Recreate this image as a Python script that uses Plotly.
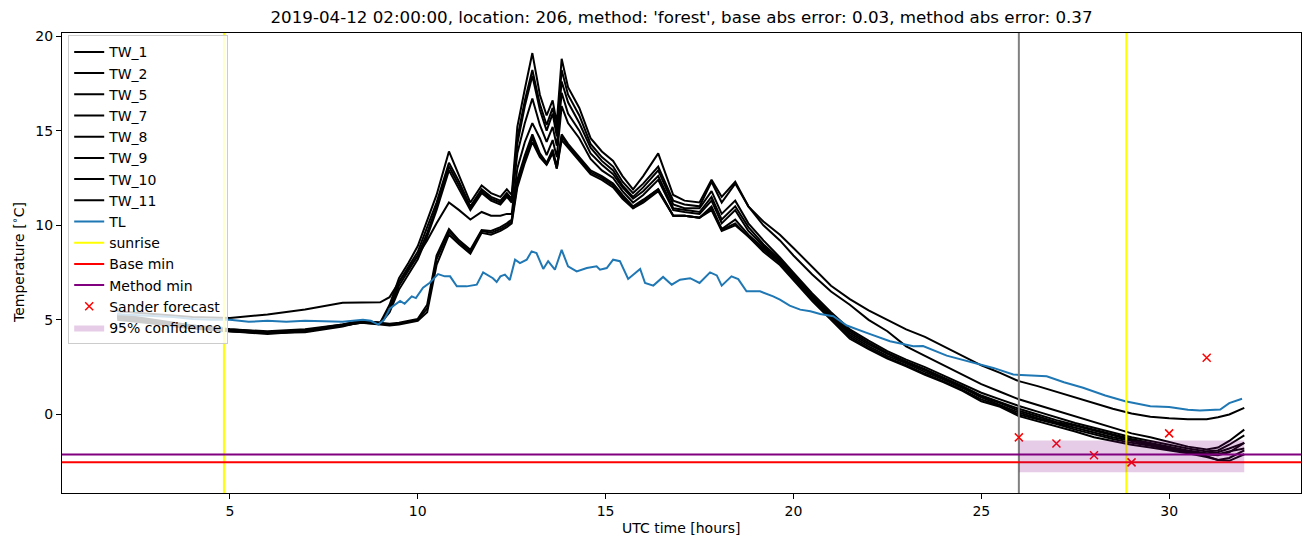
import plotly.graph_objects as go

# ---------------- data ----------------
T = [2.0, 3.0, 4.0, 5.0, 6.0, 7.0, 8.0, 8.5, 9.0, 9.25, 9.5, 9.75, 10.0, 10.25, 10.5,
     10.83, 11.1, 11.4, 11.7, 11.95, 12.2, 12.37, 12.5, 12.65, 12.85, 13.05, 13.25,
     13.43, 13.59, 13.7, 13.83, 14.0, 14.3, 14.6, 14.9, 15.2, 15.45, 15.73, 16.0, 16.4,
     16.8, 17.1, 17.5, 17.82, 18.09, 18.45, 18.8, 19.2, 19.64, 20.0, 20.5, 21.0, 21.5,
     22.0, 22.5, 23.0, 23.5, 24.0, 24.5, 25.0, 25.5, 26.0, 26.5, 27.0, 27.5, 28.0, 28.5,
     29.0, 29.5, 30.0, 30.5, 31.0, 31.3, 31.6, 32.0]

TW_1 = [5.2, 4.9, 4.7, 4.5, 4.35, 4.45, 4.75, 4.95, 4.85, 5.8, 7.2, 8.0, 8.9, 10.2, 11.6,
        13.9, 12.6, 11.2, 12.1, 11.7, 11.5, 11.9, 11.6, 15.2, 17.2, 19.1, 16.9,
        15.8, 16.6, 15.4, 18.8, 17.3, 16.2, 14.6, 13.9, 13.4, 12.6, 11.9, 12.6, 13.8,
        11.6, 11.3, 11.2, 12.4, 11.5, 12.3, 11.0, 10.0, 9.2, 8.4, 7.4, 6.5, 5.8,
        5.0, 4.4, 3.6, 3.1, 2.6, 2.1, 1.6, 1.2, 0.8, 0.5, 0.2, -0.1, -0.4, -0.7,
        -1.0, -1.2, -1.45, -1.7, -1.85, -1.75, -1.4, -0.8]
TW_2 = [5.1, 4.85, 4.6, 4.45, 4.3, 4.4, 4.7, 4.9, 4.85, 5.6, 7.0, 7.8, 8.6, 9.9, 11.2,
        13.3, 12.3, 11.0, 11.9, 11.5, 11.3, 11.7, 11.4, 14.6, 16.6, 18.2, 16.4,
        15.3, 16.2, 15.0, 18.2, 16.9, 15.8, 14.3, 13.6, 13.1, 12.3, 11.7, 12.2, 13.1,
        11.3, 11.1, 11.0, 12.3, 11.2, 12.2, 11.0, 10.2, 9.5, 8.8, 7.8, 6.8, 6.1,
        5.5, 5.0, 4.5, 4.1, 3.6, 3.1, 2.6, 2.2, 1.76, 1.5, 1.2, 0.9, 0.6, 0.3,
        0.05, -0.12, -0.2, -0.25, -0.25, -0.15, 0.0, 0.35]
TW_5 = [5.0, 4.8, 4.55, 4.4, 4.3, 4.35, 4.65, 4.9, 4.8, 5.5, 6.8, 7.6, 8.4, 9.6, 11.0,
        13.1, 12.1, 10.9, 11.8, 11.4, 11.2, 11.6, 11.3, 14.3, 16.3, 17.9, 16.1,
        15.0, 15.9, 14.7, 17.6, 16.5, 15.4, 14.1, 13.4, 12.9, 12.1, 11.5, 12.0, 12.9,
        11.1, 10.9, 10.9, 11.8, 10.6, 11.3, 10.1, 9.2, 8.3, 7.5, 6.4, 5.4, 4.5,
        3.9, 3.35, 2.9, 2.5, 2.05, 1.6, 1.15, 0.8, 0.45, 0.15, -0.15, -0.45, -0.7, -0.95,
        -1.2, -1.4, -1.6, -1.8, -1.95, -1.9, -1.6, -1.1]
TW_7 = [5.15, 4.9, 4.6, 4.4, 4.25, 4.4, 4.7, 4.85, 4.8, 5.4, 6.6, 7.4, 8.2, 9.4, 10.8,
        12.9, 11.9, 10.8, 11.7, 11.3, 11.1, 11.5, 11.2, 13.8, 15.4, 16.7, 15.3,
        14.4, 15.2, 14.2, 17.0, 15.9, 15.0, 13.8, 13.2, 12.7, 12.0, 11.4, 11.8, 12.6,
        10.9, 10.8, 10.7, 11.5, 10.3, 11.0, 9.9, 9.0, 8.2, 7.4, 6.3, 5.3, 4.4,
        3.8, 3.25, 2.8, 2.4, 1.95, 1.5, 1.0, 0.65, 0.3, 0.0, -0.3, -0.55, -0.8, -1.05,
        -1.3, -1.5, -1.7, -1.9, -2.05, -2.0, -1.8, -1.5]
TW_8 = [5.45, 5.3, 5.15, 5.1, 5.28, 5.55, 5.9, 5.92, 5.93, 6.2, 7.0, 7.7, 8.4, 9.2, 10.1,
        11.2, 10.8, 10.3, 10.7, 10.5, 10.5, 10.6, 10.6, 13.0, 14.4, 15.4, 14.6,
        13.7, 14.5, 13.6, 16.3, 15.4, 14.6, 13.5, 12.9, 12.5, 11.8, 11.2, 11.6, 12.4,
        10.8, 10.7, 10.6, 11.3, 10.1, 10.8, 9.7, 8.9, 8.1, 7.3, 6.2, 5.2, 4.3,
        3.7, 3.2, 2.75, 2.35, 1.9, 1.45, 0.95, 0.6, 0.2, -0.1, -0.4, -0.6, -0.85, -1.1,
        -1.35, -1.55, -1.75, -1.95, -2.1, -2.1, -1.95, -1.8]
TW_9 = [5.3, 5.0, 4.7, 4.5, 4.4, 4.5, 4.75, 4.95, 4.85, 4.8, 4.85, 4.95, 5.05, 5.8, 8.4,
        9.8, 9.2, 8.7, 9.75, 9.7, 9.9, 10.1, 10.3, 12.4, 13.7, 14.8, 13.8,
        13.3, 14.0, 13.1, 14.8, 14.3, 13.6, 12.9, 12.6, 12.2, 11.6, 11.0, 11.35, 11.9,
        10.5, 10.5, 10.4, 11.0, 9.8, 10.3, 9.5, 8.8, 8.1, 7.3, 6.2, 5.2, 4.2,
        3.6, 3.1, 2.7, 2.25, 1.85, 1.4, 0.9, 0.5, 0.1, -0.2, -0.45, -0.7, -0.95, -1.2,
        -1.4, -1.6, -1.8, -2.0, -2.2, -2.4, -2.45, -2.1]
TW_10 = [5.2, 4.95, 4.65, 4.45, 4.35, 4.45, 4.7, 4.9, 4.8, 4.75, 4.8, 4.9, 5.0, 5.6, 8.2,
         9.65, 9.1, 8.6, 9.7, 9.6, 9.8, 10.0, 10.2, 12.2, 13.5, 14.6, 13.7,
         13.2, 13.9, 13.0, 14.7, 14.2, 13.5, 12.8, 12.5, 12.1, 11.5, 10.9, 11.3, 11.9,
         10.5, 10.5, 10.4, 10.9, 9.76, 10.1, 9.4, 8.7, 8.0, 7.2, 6.1, 5.1, 4.1,
         3.5, 3.0, 2.6, 2.15, 1.75, 1.3, 0.8, 0.45, 0.0, -0.25, -0.5, -0.8, -1.05, -1.3,
         -1.5, -1.65, -1.85, -2.0, -2.1, -2.15, -2.0, -1.5]
TW_11 = [5.1, 4.9, 4.6, 4.4, 4.3, 4.4, 4.7, 4.85, 4.75, 4.7, 4.75, 4.85, 4.95, 5.4, 7.9,
         9.5, 9.0, 8.5, 9.6, 9.5, 9.7, 9.9, 10.1, 12.0, 13.3, 14.4, 13.6,
         13.2, 13.8, 13.0, 14.5, 14.1, 13.4, 12.7, 12.4, 12.0, 11.4, 10.9, 11.2, 11.8,
         10.5, 10.5, 10.4, 10.8, 9.7, 10.0, 9.4, 8.6, 7.9, 7.1, 6.0, 5.0, 4.0,
         3.45, 2.95, 2.55, 2.1, 1.7, 1.25, 0.7, 0.4, -0.09, -0.35, -0.6, -0.9, -1.2, -1.4,
         -1.6, -1.75, -1.9, -2.05, -2.25, -2.4, -2.3, -1.9]

TL_time = [2.0, 2.5, 3.0, 3.5, 4.0, 4.5, 5.0, 5.5, 6.0, 6.5, 7.0, 7.6, 8.0, 8.54, 8.75,
           8.95, 9.1, 9.26, 9.4, 9.53, 9.65, 9.84, 9.95, 10.14, 10.32, 10.54, 10.72,
           10.86, 11.04, 11.3, 11.57, 11.74, 12.0, 12.1, 12.2, 12.32, 12.45, 12.59,
           12.72, 12.9, 13.03, 13.16, 13.34, 13.47, 13.65, 13.83, 14.0, 14.23, 14.5,
           14.76, 14.85, 15.03, 15.2, 15.38, 15.6, 15.92, 16.05, 16.27, 16.53, 16.76,
           16.98, 17.25, 17.5, 17.78, 17.96, 18.09, 18.35, 18.53, 18.75, 19.11, 19.46,
           19.64, 19.9, 20.18, 20.45, 20.71, 21.06, 21.42, 21.95, 22.57, 23.19, 23.45,
           24.08, 24.61, 25.32, 25.85, 26.3, 26.74, 27.2, 27.71, 28.3, 28.83, 29.5,
           30.0, 30.5, 30.82, 31.36, 31.6, 31.94]
TL = [5.3, 5.25, 5.2, 5.15, 5.05, 5.0, 5.0, 4.9, 4.95, 4.9, 4.95, 4.92, 4.9, 5.0, 4.95,
      4.75, 5.0, 5.6, 5.8, 6.0, 5.85, 6.24, 6.15, 6.7, 6.96, 7.42, 7.3,
      7.3, 6.77, 6.77, 6.86, 7.51, 7.2, 7.0, 7.3, 7.39, 7.1, 8.18,
      8.0, 8.18, 8.62, 8.53, 7.69, 8.1, 7.65, 8.7, 7.83, 7.56, 7.74,
      7.83, 7.65, 7.74, 8.18, 8.1, 7.16, 7.69, 6.95, 6.81, 7.27, 6.86,
      7.12, 7.2, 6.95, 7.51, 7.35, 6.81, 7.3, 7.15, 6.51, 6.51, 6.24,
      6.07, 5.75, 5.54, 5.45, 5.31, 5.19, 4.7, 4.31, 3.87, 3.6, 3.62,
      3.11, 2.82, 2.46, 2.11, 2.08, 2.02, 1.7, 1.41, 1.0, 0.7, 0.44,
      0.4, 0.25, 0.21, 0.26, 0.6, 0.83]

tw_names = ["TW_1", "TW_2", "TW_5", "TW_7", "TW_8", "TW_9", "TW_10", "TW_11"]
tw_series = [TW_1, TW_2, TW_5, TW_7, TW_8, TW_9, TW_10, TW_11]

sunrise_times = [4.84, 28.86]
forecast_start = 26.0
base_min = -2.53
method_min = -2.11
sander_time = [26, 27, 28, 29, 30, 31]
sander_temp = [-1.21, -1.53, -2.16, -2.53, -1.0, 3.0]
conf_time = [26.0, 32.0]
conf_low = -3.06
conf_high = -1.37

title = ("2019-04-12 02:00:00, location: 206, method: 'forest', "
         "base abs error: 0.03, method abs error: 0.37")
x_label = "UTC time [hours]"
y_label = "Temperature [<sup>∘</sup>C]"

X_RANGE = [0.53, 33.51]
Y_RANGE = [-4.15, 20.16]

# ---------------- figure ----------------
fig = go.Figure()
for name, vals in zip(tw_names, tw_series):
    fig.add_trace(go.Scatter(x=T, y=vals, mode="lines", name=name,
                             line=dict(color="black", width=2)))
fig.add_trace(go.Scatter(x=TL_time, y=TL, mode="lines", name="TL",
                         line=dict(color="#1f77b4", width=2)))
# forecast start (grey vertical)
fig.add_trace(go.Scatter(x=[forecast_start, forecast_start], y=Y_RANGE, mode="lines",
                         line=dict(color="grey", width=2), showlegend=False,
                         hoverinfo="skip"))
for i, s in enumerate(sunrise_times):
    fig.add_trace(go.Scatter(x=[s, s], y=Y_RANGE, mode="lines", name="sunrise",
                             line=dict(color="yellow", width=2),
                             showlegend=(i == 0), legendgroup="sunrise"))
fig.add_trace(go.Scatter(x=X_RANGE, y=[base_min, base_min], mode="lines", name="Base min",
                         line=dict(color="red", width=2)))
fig.add_trace(go.Scatter(x=X_RANGE, y=[method_min, method_min], mode="lines",
                         name="Method min", line=dict(color="purple", width=2)))
fig.add_trace(go.Scatter(x=sander_time, y=sander_temp, mode="markers",
                         name="Sander forecast",
                         marker=dict(symbol="x-thin", size=8, color="red",
                                     line=dict(color="red", width=1.5))))
fig.add_trace(go.Scatter(x=[conf_time[0], conf_time[1], conf_time[1], conf_time[0], conf_time[0]],
                         y=[conf_low, conf_low, conf_high, conf_high, conf_low],
                         mode="lines", fill="toself", name="95% confidence",
                         fillcolor="rgba(128,0,128,0.2)", line=dict(width=0)))

axis_common = dict(showline=True, linecolor="black", linewidth=1, mirror=True,
                   ticks="outside", ticklen=5, tickcolor="black", showgrid=False,
                   zeroline=False, automargin=False,
                   tickfont=dict(size=14, color="black"))
fig.update_layout(
    width=1310, height=547,
    margin=dict(l=62, r=9, t=33, b=54),
    paper_bgcolor="white", plot_bgcolor="white",
    font=dict(family="DejaVu Sans", size=14, color="black"),
    title=dict(text=title, x=0.5, xref="paper", xanchor="center",
               y=1 - 17 / 547, yref="container", yanchor="middle",
               font=dict(size=16.7, color="black")),
    xaxis=dict(range=X_RANGE, tickvals=[5, 10, 15, 20, 25, 30], **axis_common),
    yaxis=dict(range=Y_RANGE, tickvals=[0, 5, 10, 15, 20], **axis_common),
    legend=dict(x=0.005, y=0.995, xanchor="left", yanchor="top",
                bgcolor="rgba(255,255,255,0.8)", bordercolor="#cccccc", borderwidth=1,
                font=dict(size=14), tracegroupgap=0, itemwidth=30),
    showlegend=True,
    annotations=[
        dict(text=x_label, x=0.5, y=0, xref="paper", yref="paper",
             xanchor="center", yanchor="middle", yshift=-35, showarrow=False,
             font=dict(size=14, color="black")),
        dict(text=y_label, x=0, y=0.5, xref="paper", yref="paper",
             xanchor="center", yanchor="middle", xshift=-44, textangle=-90,
             showarrow=False, font=dict(size=14, color="black")),
    ],
)

fig.write_html("out.html", config={"displayModeBar": False},
               post_script="document.body.style.margin='0';")
